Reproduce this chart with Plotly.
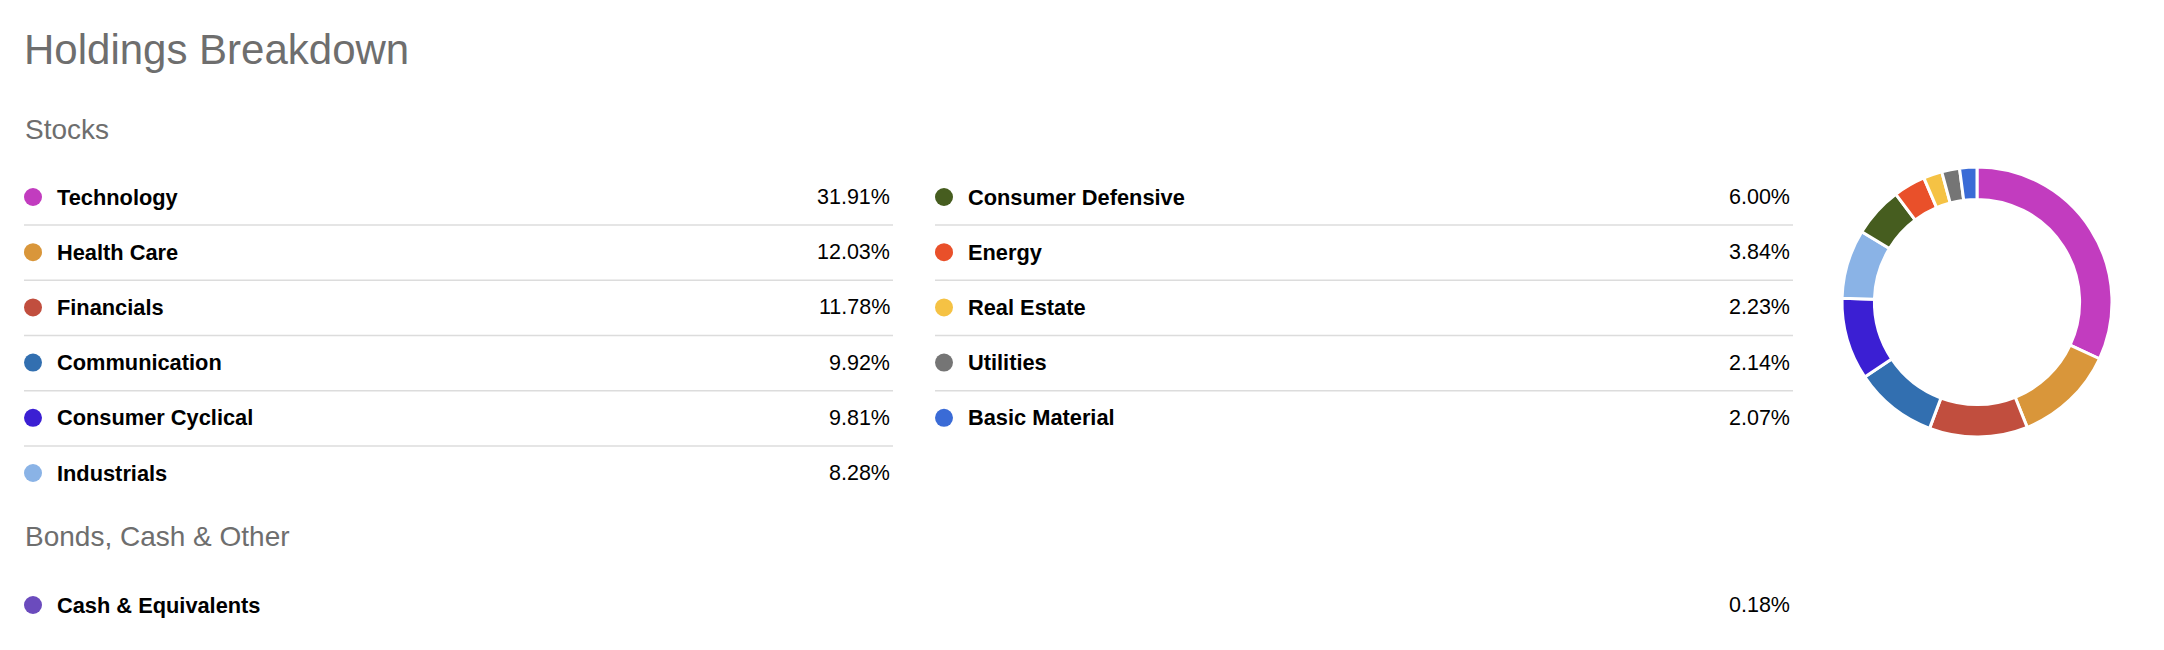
import plotly.graph_objects as go

W, H = 2164, 650

title_text = "Holdings Breakdown"
stocks_heading = "Stocks"
other_heading = "Bonds, Cash & Other"

stock_labels = ["Technology", "Health Care", "Financials", "Communication",
                "Consumer Cyclical", "Industrials", "Consumer Defensive",
                "Energy", "Real Estate", "Utilities", "Basic Material"]
stock_values = [31.91, 12.03, 11.78, 9.92, 9.81, 8.28, 6.00, 3.84, 2.23, 2.14, 2.07]
stock_colors = ["#c23cbf", "#d9963a", "#c14e3e", "#326fb0", "#3b1fd3", "#8ab3e6",
                "#465d1f", "#e9502a", "#f5c244", "#757575", "#3a6bd6"]

other_labels = ["Cash & Equivalents"]
other_values = [0.18]
other_colors = ["#6b4bbd"]

FONT = "Liberation Sans, Arial, Helvetica, sans-serif"

# layout constants (pixels)
col_left = [24, 935]
col_right = [892, 1792]
row_y0 = 197
row_step = 55.2
rows_per_col = 6
dot_dx = 9
text_dx = 31

fig = go.Figure()

annotations = []
shapes = []

def add_text(x, y, text, size, color, xanchor="left", bold=False):
    annotations.append(dict(
        x=x, y=y, xref="x", yref="y", text=("<b>%s</b>" % text) if bold else text,
        showarrow=False, xanchor=xanchor, yanchor="middle",
        font=dict(family=FONT, size=size, color=color)))

add_text(22, 49, title_text, 42, "#6e6e6e")
add_text(23, 129, stocks_heading, 28, "#6e6e6e")
add_text(23, 536, other_heading, 28, "#6e6e6e")

dot_x, dot_y, dot_c = [], [], []

for i, (lab, val, col) in enumerate(zip(stock_labels, stock_values, stock_colors)):
    c = i // rows_per_col
    r = i % rows_per_col
    y = row_y0 + r * row_step
    x0 = col_left[c]
    x1 = col_right[c]
    dot_x.append(x0 + dot_dx)
    dot_y.append(y)
    dot_c.append(col)
    add_text(x0 + text_dx, y, lab, 21.8, "#000000", bold=True)
    add_text(x1, y, "%.2f%%" % val, 21.5, "#000000", xanchor="right")
    last_in_col = (r == rows_per_col - 1) or (i == len(stock_labels) - 1)
    if not last_in_col:
        ly = y + row_step / 2 + 0.5
        shapes.append(dict(type="line", xref="x", yref="y", x0=x0, x1=x1 + 1,
                           y0=ly, y1=ly, line=dict(color="#dcdcdc", width=1.5)))

cash_y = 605
for j, (lab, val, col) in enumerate(zip(other_labels, other_values, other_colors)):
    y = cash_y + j * row_step
    dot_x.append(col_left[0] + dot_dx)
    dot_y.append(y)
    dot_c.append(col)
    add_text(col_left[0] + text_dx, y, lab, 21.8, "#000000", bold=True)
    add_text(col_right[1], y, "%.2f%%" % val, 21.5, "#000000", xanchor="right")

fig.add_trace(go.Scatter(
    x=dot_x, y=dot_y, mode="markers",
    marker=dict(size=18, color=dot_c, line=dict(width=0)),
    hoverinfo="skip", showlegend=False))

# donut
cx, cy, rad = 1977, 302, 135
fig.add_trace(go.Pie(
    labels=stock_labels, values=stock_values, sort=False, direction="clockwise",
    rotation=0, hole=0.76, textinfo="none", showlegend=False,
    marker=dict(colors=stock_colors, line=dict(color="#ffffff", width=3)),
    domain=dict(x=[(cx - rad) / W, (cx + rad) / W],
                y=[(H - cy - rad) / H, (H - cy + rad) / H])))

fig.update_layout(
    width=W, height=H,
    margin=dict(l=0, r=0, t=0, b=0),
    paper_bgcolor="#ffffff", plot_bgcolor="#ffffff",
    xaxis=dict(range=[0, W], visible=False, domain=[0, 1], fixedrange=True),
    yaxis=dict(range=[H, 0], visible=False, domain=[0, 1], fixedrange=True),
    annotations=annotations, shapes=shapes,
    showlegend=False,
)

fig.write_html("out.html")
